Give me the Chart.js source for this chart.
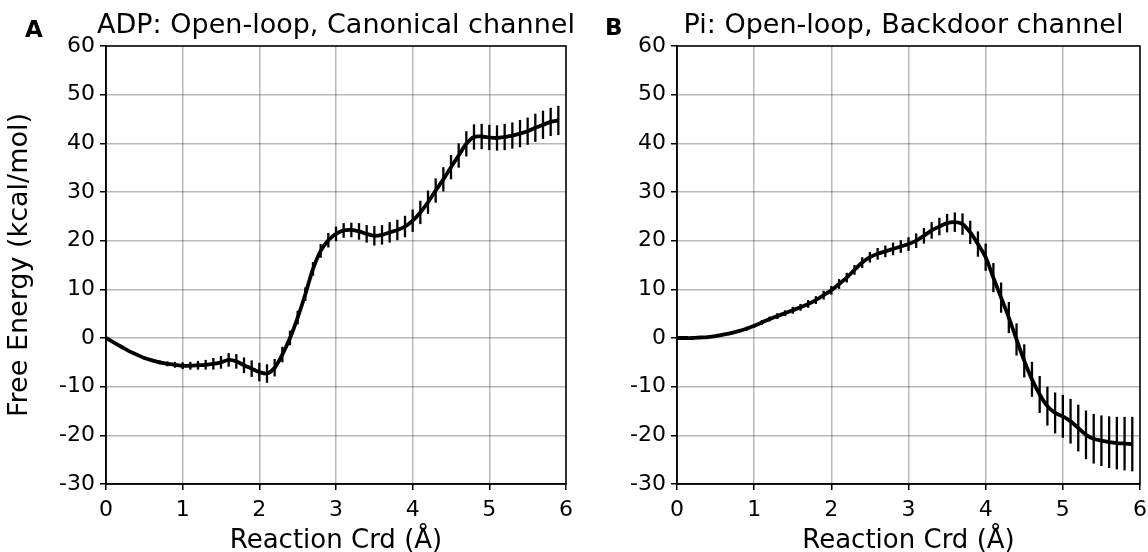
<!DOCTYPE html>
<html>
<head>
<meta charset="utf-8">
<script src="https://cdn.jsdelivr.net/npm/chart.js@4"></script>
<style>
  html, body { margin: 0; padding: 0; background: #fff; overflow: hidden; }
  #wrap { position: relative; width: 1148px; height: 552px; overflow: hidden; }
  .box { position: absolute; top: 0; width: 580px; height: 552px; }
</style>
</head>
<body>
<div id="wrap">
  <div class="box" style="left:0"><canvas id="graficoA" width="580" height="552"></canvas></div>
  <div class="box" style="left:574px"><canvas id="graficoB" width="580" height="552"></canvas></div>
</div>
<script>
// reaction coordinate (Å), one point every 0.1
const coord = [0.0, 0.1, 0.2, 0.3, 0.4, 0.5, 0.6, 0.7, 0.8, 0.9,
               1.0, 1.1, 1.2, 1.3, 1.4, 1.5, 1.6, 1.7, 1.8, 1.9,
               2.0, 2.1, 2.2, 2.3, 2.4, 2.5, 2.6, 2.7, 2.8, 2.9,
               3.0, 3.1, 3.2, 3.3, 3.4, 3.5, 3.6, 3.7, 3.8, 3.9,
               4.0, 4.1, 4.2, 4.3, 4.4, 4.5, 4.6, 4.7, 4.8, 4.9,
               5.0, 5.1, 5.2, 5.3, 5.4, 5.5, 5.6, 5.7, 5.8, 5.9];

// ADP, canonical channel
const energiaA = [0, -0.9, -1.8, -2.7, -3.4, -4.1, -4.6, -5.0, -5.3, -5.5,
                  -5.7, -5.7, -5.6, -5.5, -5.3, -5.0, -4.5, -4.8, -5.6, -6.3,
                  -7.0, -7.3, -6.1, -3.4, 0.0, 4.2, 9.0, 14.2, 17.9, 20.1,
                  21.4, 22.1, 22.2, 21.9, 21.4, 21.0, 21.2, 21.7, 22.2, 22.9,
                  24.1, 25.8, 27.9, 30.3, 32.6, 35.1, 37.5, 39.9, 41.3, 41.4,
                  41.2, 41.1, 41.3, 41.6, 42.0, 42.5, 43.2, 43.8, 44.4, 44.7];
const erroA = [0, 0.1, 0.1, 0.2, 0.2, 0.3, 0.3, 0.4, 0.5, 0.6,
               0.7, 0.8, 0.9, 1.0, 1.2, 1.3, 1.4, 1.5, 1.6, 1.7,
               1.9, 1.9, 1.8, 1.6, 1.5, 1.4, 1.4, 1.4, 1.4, 1.5,
               1.5, 1.5, 1.5, 1.7, 1.8, 2.0, 2.0, 2.1, 2.1, 2.2,
               2.3, 2.4, 2.4, 2.5, 2.5, 2.5, 2.5, 2.6, 2.6, 2.6,
               2.6, 2.6, 2.7, 2.7, 2.8, 2.8, 2.9, 2.9, 2.9, 3.0];

// Pi, backdoor channel
const energiaB = [0, 0, 0, 0.1, 0.2, 0.4, 0.7, 1.0, 1.4, 1.9,
                  2.5, 3.2, 3.9, 4.5, 5.1, 5.7, 6.3, 7.0, 7.8, 8.8,
                  9.8, 11.1, 12.4, 14.0, 15.5, 16.6, 17.3, 17.8, 18.3, 18.8,
                  19.3, 20.0, 21.0, 22.1, 22.9, 23.6, 23.8, 23.4, 21.7, 19.3,
                  16.6, 12.4, 8.3, 4.2, -0.3, -4.7, -8.5, -11.6, -14.0, -15.4,
                  -16.1, -17.1, -18.5, -19.9, -20.7, -21.1, -21.4, -21.6, -21.7, -21.8];
const erroB = [0, 0.1, 0.1, 0.1, 0.2, 0.2, 0.2, 0.3, 0.3, 0.4,
               0.4, 0.5, 0.5, 0.6, 0.6, 0.7, 0.7, 0.8, 0.8, 0.9,
               0.9, 1.0, 1.0, 1.0, 1.1, 1.1, 1.2, 1.2, 1.3, 1.3,
               1.4, 1.5, 1.6, 1.7, 1.8, 1.9, 2.0, 2.2, 2.4, 2.6,
               2.8, 3.0, 3.1, 3.2, 3.3, 3.4, 3.6, 3.8, 4.0, 4.2,
               4.4, 4.6, 4.8, 5.0, 5.1, 5.2, 5.3, 5.4, 5.5, 5.6];

const xTicks = [0, 1, 2, 3, 4, 5, 6];
const yTicks = [-30, -20, -10, 0, 10, 20, 30, 40, 50, 60];

const fonte = "'DejaVu Sans', 'Liberation Sans', sans-serif";

// error bars + frame + panel title, all from the chart's own scales
const barrasErro = {
    id: 'barrasErro',
    afterDatasetsDraw(chart, args, opts) {
        const ctx = chart.ctx;
        const xs = chart.scales.x, ys = chart.scales.y;
        const ds = chart.data.datasets[0];
        ctx.save();
        ctx.strokeStyle = '#000';
        ctx.lineWidth = 2.3;
        ds.data.forEach((p, i) => {
            const e = opts.erro[i];
            if (!e) return;
            const px = xs.getPixelForValue(p.x);
            ctx.beginPath();
            ctx.moveTo(px, ys.getPixelForValue(p.y - e));
            ctx.lineTo(px, ys.getPixelForValue(p.y + e));
            ctx.stroke();
        });
        const a = chart.chartArea;
        ctx.lineWidth = 1.5;
        ctx.strokeRect(a.left, a.top, a.right - a.left, a.bottom - a.top);
        ctx.fillStyle = '#000';
        ctx.textBaseline = 'alphabetic';
        ctx.font = '27px ' + fonte;
        ctx.textAlign = 'center';
        ctx.fillText(opts.titulo, (a.left + a.right) / 2 + opts.dx, 33);
        ctx.font = 'bold 23px ' + fonte;
        ctx.textAlign = 'left';
        ctx.fillText(opts.letra, opts.letraX, opts.letraY);
        ctx.restore();
    }
};

function gerarGrafico(id, energia, erro, titulo, letra, letraX, letraY, dx, larguraY, tituloY) {
    const canvas = document.getElementById(id);
    const ctx = canvas.getContext('2d');
    return new Chart(ctx, {
        type: 'line',
        data: {
            datasets: [{
                data: coord.map((x, i) => ({ x: x, y: energia[i] })),
                borderColor: '#000',
                borderWidth: 3.8,
                pointRadius: 0,
                tension: 0.3,
                fill: false
            }]
        },
        options: {
            responsive: false,
            animation: false,
            events: [],
            layout: { padding: { left: 0, right: 14, top: 46, bottom: 0 } },
            plugins: {
                legend: { display: false },
                tooltip: { enabled: false },
                barrasErro: { erro: erro, titulo: titulo, letra: letra, letraX: letraX, letraY: letraY, dx: dx }
            },
            scales: {
                x: {
                    type: 'linear', min: 0, max: 6,
                    afterBuildTicks: s => { s.ticks = xTicks.map(v => ({ value: v })); },
                    afterFit: s => { s.height = 68; },
                    grid: { color: 'rgba(0,0,0,0.28)', lineWidth: 1.5, tickColor: '#000', tickLength: 6 },
                    border: { color: '#000', width: 1.5 },
                    ticks: { color: '#000', font: { family: fonte, size: 22 }, padding: 7, maxRotation: 0 },
                    title: { display: true, text: 'Reaction Crd (Å)', color: '#000',
                             font: { family: fonte, size: 26 }, padding: { top: 0, bottom: -5 } }
                },
                y: {
                    type: 'linear', min: -30, max: 60,
                    afterBuildTicks: s => { s.ticks = yTicks.map(v => ({ value: v })); },
                    afterFit: s => { s.width = larguraY; },
                    grid: { color: 'rgba(0,0,0,0.28)', lineWidth: 1.5, tickColor: '#000', tickLength: 6 },
                    border: { color: '#000', width: 1.5 },
                    ticks: { color: '#000', font: { family: fonte, size: 22 }, padding: 5 },
                    title: { display: tituloY, text: 'Free Energy (kcal/mol)', color: '#000',
                             font: { family: fonte, size: 27 }, padding: { top: 4, bottom: 0 } }
                }
            }
        },
        plugins: [barrasErro]
    });
}

window.graficoA = gerarGrafico('graficoA', energiaA, erroA,
    'ADP: Open-loop, Canonical channel', 'A', 25, 37, 0, 106, true);
window.graficoB = gerarGrafico('graficoB', energiaB, erroB,
    'Pi: Open-loop, Backdoor channel', 'B', 31, 35, -5, 103, false);
</script>
</body>
</html>
